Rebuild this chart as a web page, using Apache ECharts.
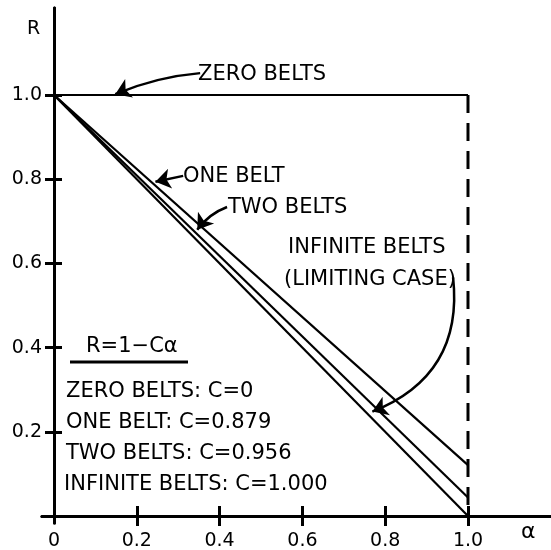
<!DOCTYPE html>
<html><head><meta charset="utf-8">
<script src="https://cdn.jsdelivr.net/npm/echarts@6/dist/echarts.min.js"></script>
<style>html,body{margin:0;padding:0;background:#fff}#c{width:551px;height:550px}</style>
</head><body><div id="c"></div>
<script>
// ---- data ----
const alpha = [0, 1.0];
const zeroBelts = [1.0, 1.0];
const oneBelt = [1.0, 0.121];
const twoBelts = [1.0, 0.044];
const infiniteBelts = [1.0, 0.0];
const limitR = [1.0, 0.0];          // dashed boundary at alpha = 1
const limitAlpha = 1.0;
const xTicks = [0.2, 0.4, 0.6, 0.8, 1.0];
const xTickLabels = [0, 0.2, 0.4, 0.6, 0.8, 1.0];
const yTicks = [0.2, 0.4, 0.6, 0.8, 1.0];
const yTickLabels = [0.2, 0.4, 0.6, 0.8, 1.0];
const legendTitle = 'R=1\u2212C\u03b1';
const legendLines = ['ZERO BELTS: C=0', 'ONE BELT: C=0.879', 'TWO BELTS: C=0.956', 'INFINITE BELTS: C=1.000'];
// annotation arrows: [tail, head] in data units
const arrowZero = [[0.353, 1.052], [0.148, 1.002]];
const arrowOne = [[0.312, 0.808], [0.245, 0.794]];
const arrowTwo = [[0.418, 0.734], [0.346, 0.680]];
const arrowInf = [[0.964, 0.567], [0.769, 0.248]];

const FONT = '"DejaVu Sans", sans-serif';
const chart = echarts.init(document.getElementById('c'));

function pts(ys) { return alpha.map((a, i) => [a, ys[i]]); }
function lineSeries(data, extra) {
  return Object.assign({
    type: 'line', data: data, symbol: 'none', silent: true, animation: false,
    lineStyle: { color: '#000', width: 2.2 }, z: 3
  }, extra || {});
}
function arrow(a, curv) {
  return { coords: a, lineStyle: { curveness: curv } };
}
function txt(x, y, s, size) {
  return { type: 'text', x: x, y: y, style: { text: s, fontSize: size || 21, fontFamily: FONT, fill: '#000', verticalAlign: 'middle', textVerticalAlign: 'middle' } };
}
const fmt = v => (v === 0 ? '0' : v.toFixed(1));

const baseX = {
  type: 'value', min: -0.029, max: 1.2005, position: 'bottom',
  splitLine: { show: false },
  axisLine: { onZero: true, lineStyle: { color: '#000', width: 3 } }
};
const baseY = {
  type: 'value', min: -0.0166, max: 1.2067, position: 'left',
  splitLine: { show: false },
  axisLine: { onZero: true, lineStyle: { color: '#000', width: 3 } }
};

chart.setOption({
  backgroundColor: '#fff',
  animation: false,
  grid: { left: 42, right: 0, top: 8, bottom: 27, containLabel: false, outerBoundsMode: 'none' },
  xAxis: [
    Object.assign({}, baseX, {
      axisTick: { show: true, customValues: xTicks, length: 10, inside: false, lineStyle: { color: '#000', width: 3 } },
      axisLabel: { customValues: xTickLabels, formatter: fmt, color: '#000', fontSize: 19, fontFamily: FONT, margin: 9 }
    }),
    Object.assign({}, baseX, {
      axisTick: { show: true, customValues: xTicks, length: 10, inside: true, lineStyle: { color: '#000', width: 3 } },
      axisLabel: { show: false }
    })
  ],
  yAxis: [
    Object.assign({}, baseY, {
      axisTick: { show: true, customValues: yTicks, length: 9, inside: false, lineStyle: { color: '#000', width: 3 } },
      axisLabel: { customValues: yTickLabels, formatter: fmt, color: '#000', fontSize: 19, fontFamily: FONT, margin: 0 }
    }),
    Object.assign({}, baseY, {
      axisTick: { show: true, customValues: yTicks, length: 8, inside: true, lineStyle: { color: '#000', width: 3 } },
      axisLabel: { show: false }
    })
  ],
  series: [
    lineSeries(pts(zeroBelts), { name: 'ZERO BELTS' }),
    lineSeries(limitR.map(r => [limitAlpha, r]), { name: 'limit', lineStyle: { color: '#000', width: 3, type: [18, 10] } }),
    lineSeries(pts(oneBelt), { name: 'ONE BELT' }),
    lineSeries(pts(twoBelts), { name: 'TWO BELTS' }),
    lineSeries(pts(infiniteBelts), { name: 'INFINITE BELTS' }),
    {
      type: 'lines', coordinateSystem: 'cartesian2d', silent: true, animation: false, z: 4,
      symbol: ['none', 'arrow'], symbolSize: [9, 15],
      lineStyle: { color: '#000', width: 2.5, opacity: 1 },
      data: [arrow(arrowZero, -0.08), arrow(arrowOne, 0), arrow(arrowTwo, -0.15), arrow(arrowInf, 0.38)]
    }
  ],
  graphic: [
    txt(27, 29, 'R', 19),
    txt(521, 532, '\u03b1', 22),
    txt(198, 75, 'ZERO BELTS'),
    txt(183, 177, 'ONE BELT'),
    txt(228, 208, 'TWO BELTS'),
    txt(288, 248, 'INFINITE BELTS'),
    txt(284, 280, '(LIMITING CASE)'),
    txt(86, 347, legendTitle),
    { type: 'line', shape: { x1: 70, y1: 362, x2: 188, y2: 362 }, style: { stroke: '#000', lineWidth: 3 } },
    txt(66, 392, legendLines[0]),
    txt(66, 423, legendLines[1]),
    txt(66, 454, legendLines[2]),
    txt(64, 485, legendLines[3])
  ]
});
</script>
</body></html>
